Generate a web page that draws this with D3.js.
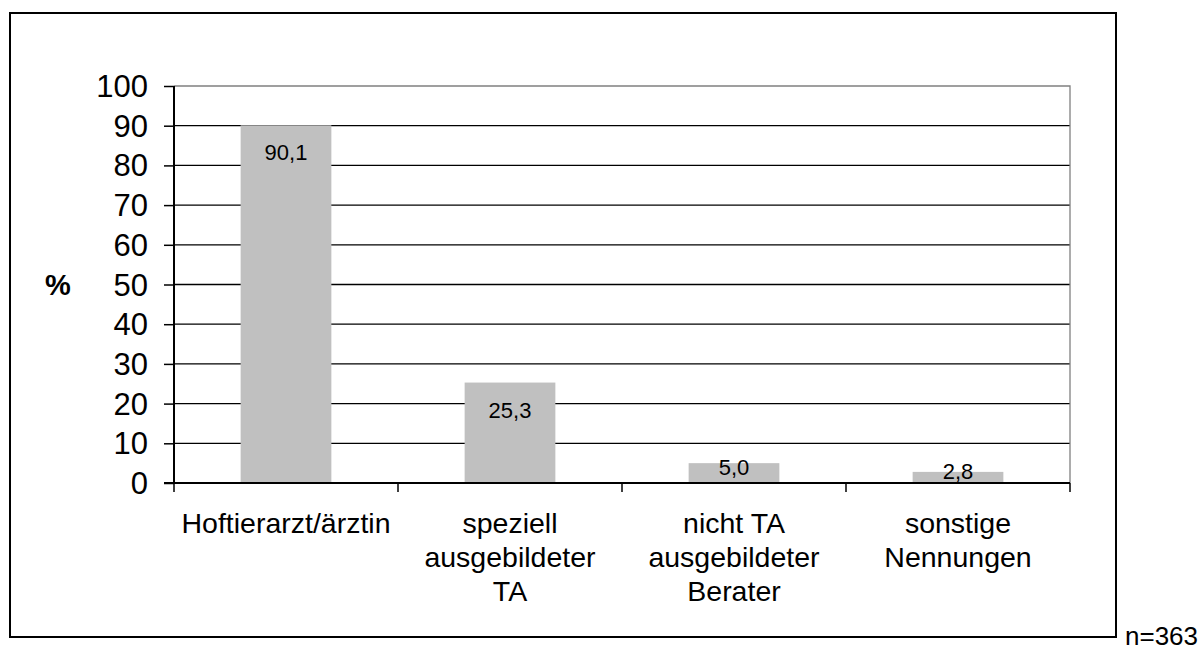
<!DOCTYPE html>
<html>
    <head>
        <meta charset="utf-8">
        <title>Diagramm</title>
        <script src="https://d3js.org/d3.v7.min.js" charset="utf-8"></script>
        <style>
            body { margin: 0; background: #fff; }
            text { font-family: "Liberation Sans", Arial, sans-serif; fill: #000; }
        </style>
    </head>
    <body>
        <script>
            // Daten aus der Abbildung
            var categories = [
                ["Hoftierarzt/ärztin"],
                ["speziell", "ausgebildeter", "TA"],
                ["nicht TA", "ausgebildeter", "Berater"],
                ["sonstige", "Nennungen"]
            ];
            var values = [90.1, 25.3, 5.0, 2.8];
            var yTicks = [0, 10, 20, 30, 40, 50, 60, 70, 80, 90, 100];
            var yLabel = "%";
            var note = "n=363";

            var width = 1203, height = 650;
            var plotLeft = 174, plotRight = 1070, plotTop = 86, plotBottom = 483;

            var svg = d3.select("body")
                    .append("svg")
                    .attr("width", width)
                    .attr("height", height);

            // Rahmen um das Diagramm
            svg.append("rect")
                .attr("x", 10).attr("y", 13)
                .attr("width", 1106).attr("height", 624)
                .style("fill", "none")
                .style("stroke", "#000")
                .style("stroke-width", 2);

            var keys = d3.range(categories.length);
            var x = d3.scaleBand().domain(keys).range([plotLeft, plotRight]);
            var xBar = d3.scaleBand().domain(keys).range([plotLeft, plotRight])
                        .paddingInner(0.595).paddingOuter(0.2975);
            var y = d3.scaleLinear().domain([0, 100]).range([plotBottom, plotTop]);

            // Gitternetz
            svg.append("g")
                .selectAll("line")
                .data(yTicks.filter(function(d) { return d > 0 && d < 100; }))
                .enter()
                .append("line")
                    .attr("x1", plotLeft).attr("x2", plotRight)
                    .attr("y1", function(d) { return y(d); })
                    .attr("y2", function(d) { return y(d); })
                    .style("stroke", "#000")
                    .style("stroke-width", 1.3);

            // Rand oben / rechts in grau
            svg.append("path")
                .attr("d", "M" + plotLeft + "," + y(100) + "H" + plotRight + "V" + plotBottom)
                .style("fill", "none")
                .style("stroke", "#808080")
                .style("stroke-width", 1.3);

            // Balken
            svg.append("g")
                .selectAll("rect")
                .data(values)
                .enter()
                .append("rect")
                    .attr("x", function(d, i) { return xBar(i); })
                    .attr("y", function(d) { return y(d); })
                    .attr("width", xBar.bandwidth())
                    .attr("height", function(d) { return plotBottom - y(d); })
                    .style("fill", "#c0c0c0");

            // Datenbeschriftung
            svg.append("g")
                .selectAll("text")
                .data(values)
                .enter()
                .append("text")
                    .attr("x", function(d, i) { return xBar(i) + xBar.bandwidth() / 2; })
                    .attr("y", function(d) {
                        var h = plotBottom - y(d);
                        return h > 60 ? y(d) + 35 : y(d) + h / 2 + 2;
                    })
                    .attr("text-anchor", "middle")
                    .style("font-size", "22px")
                    .text(function(d) { return d3.format(".1f")(d).replace(".", ","); });

            // y-Achse
            var yAxis = svg.append("g")
                .attr("transform", "translate(" + plotLeft + ",0)")
                .call(d3.axisLeft(y).tickValues(yTicks).tickSize(10).tickPadding(16));
            yAxis.select(".domain").remove();
            yAxis.selectAll(".tick line").style("stroke", "#000").style("stroke-width", 1.5);
            yAxis.selectAll(".tick text")
                .style("font-size", "31px")
                .style("font-family", "'Liberation Sans', Arial, sans-serif")
                .attr("dy", "0.34em");
            svg.append("line")
                .attr("x1", plotLeft).attr("x2", plotLeft)
                .attr("y1", plotTop).attr("y2", plotBottom + 1)
                .style("stroke", "#000").style("stroke-width", 2);

            // x-Achse
            svg.append("line")
                .attr("x1", plotLeft - 10).attr("x2", plotRight)
                .attr("y1", plotBottom).attr("y2", plotBottom)
                .style("stroke", "#000").style("stroke-width", 2);
            svg.append("g")
                .selectAll("line")
                .data(keys.concat([keys.length]))
                .enter()
                .append("line")
                    .attr("x1", function(d) { return d < keys.length ? x(d) : plotRight; })
                    .attr("x2", function(d) { return d < keys.length ? x(d) : plotRight; })
                    .attr("y1", plotBottom).attr("y2", plotBottom + 9)
                    .style("stroke", "#000").style("stroke-width", 1.5);

            // Kategorien
            svg.append("g")
                .selectAll("text")
                .data(categories)
                .enter()
                .append("text")
                    .attr("x", function(d, i) { return x(i) + x.bandwidth() / 2; })
                    .attr("y", 533)
                    .attr("text-anchor", "middle")
                    .style("font-size", "28.5px")
                    .each(function(d) {
                        var t = d3.select(this);
                        d.forEach(function(line, j) {
                            t.append("tspan")
                                .attr("x", t.attr("x"))
                                .attr("dy", j === 0 ? 0 : 34)
                                .text(line);
                        });
                    });

            // Achsentitel und Fallzahl
            svg.append("text")
                .attr("x", 58).attr("y", y(50) + 10)
                .attr("text-anchor", "middle")
                .style("font-size", "29px")
                .style("font-weight", "bold")
                .text(yLabel);

            svg.append("text")
                .attr("x", 1125).attr("y", 645)
                .style("font-size", "26px")
                .text(note);
        </script>
    </body>
</html>
